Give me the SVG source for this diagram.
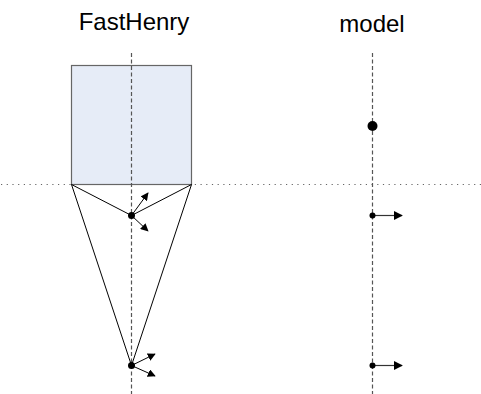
<svg xmlns="http://www.w3.org/2000/svg" width="481" height="394" viewBox="0 0 481 394">
  <defs>
    <marker id="head" viewBox="0 0 10 10" refX="9" refY="5" markerWidth="8" markerHeight="8" markerUnits="userSpaceOnUse" orient="auto">
      <path d="M0,0 L10,5 L0,10 z" fill="#000"/>
    </marker>
    <marker id="head2" viewBox="0 0 10 10" refX="9" refY="5" markerWidth="9" markerHeight="9" markerUnits="userSpaceOnUse" orient="auto">
      <path d="M0,0 L10,5 L0,10 z" fill="#000"/>
    </marker>
  </defs>
  <style>
    .title { font-family: "Liberation Sans", Arial, sans-serif; font-size: 24px; fill: #000; text-anchor: middle; }
    .axis { stroke: #555; stroke-width: 1.2; stroke-dasharray: 4 2.5; fill: none; }
    .ground { stroke: #666; stroke-width: 1.2; stroke-dasharray: 1.2 4.5; fill: none; }
    .edge { stroke: #000; stroke-width: 1; fill: none; }
    .vec { stroke: #000; stroke-width: 1; fill: none; marker-end: url(#head); }
    .vec2 { stroke: #333; stroke-width: 1.2; fill: none; marker-end: url(#head2); }
  </style>

  <rect width="481" height="394" fill="#fff"/>

  <text class="title" x="134" y="30">FastHenry</text>
  <text class="title" x="372" y="32">model</text>

  <g id="conductor">
    <rect x="71.5" y="65.5" width="120" height="119" fill="#e6ecf7" stroke="#666" stroke-width="1.2"/>
  </g>

  <g id="connectors">
    <line class="ground" x1="1" y1="184.5" x2="481" y2="184.5"/>
    <line class="axis" x1="131.5" y1="53" x2="131.5" y2="394"/>
    <line class="axis" x1="372.5" y1="53" x2="372.5" y2="394"/>

    <line class="edge" x1="71.5" y1="184.5" x2="131.5" y2="215.5"/>
    <line class="edge" x1="191.5" y1="184.5" x2="131.5" y2="215.5"/>
    <line class="edge" x1="71.5" y1="184.5" x2="131.5" y2="365.5"/>
    <line class="edge" x1="191.5" y1="184.5" x2="131.5" y2="365.5"/>

    <line class="vec" x1="131.5" y1="215.5" x2="148" y2="193"/>
    <line class="vec" x1="131.5" y1="215.5" x2="148" y2="231"/>
    <line class="vec" x1="131.5" y1="365.5" x2="155" y2="354"/>
    <line class="vec" x1="131.5" y1="365.5" x2="155" y2="376"/>

    <line class="vec2" x1="372.5" y1="215.5" x2="402" y2="215.5"/>
    <line class="vec2" x1="372.5" y1="365.5" x2="402" y2="365.5"/>
  </g>

  <g id="node-upper">
    <circle cx="131.5" cy="215.5" r="3.5" fill="#000"/>
  </g>
  <g id="node-lower">
    <circle cx="131.5" cy="365.5" r="3.5" fill="#000"/>
  </g>
  <g id="model-point">
    <circle cx="372.5" cy="126" r="5" fill="#000"/>
  </g>
  <g id="model-upper">
    <circle cx="372.5" cy="215.5" r="3" fill="#000"/>
  </g>
  <g id="model-lower">
    <circle cx="372.5" cy="365.5" r="3" fill="#000"/>
  </g>
</svg>
